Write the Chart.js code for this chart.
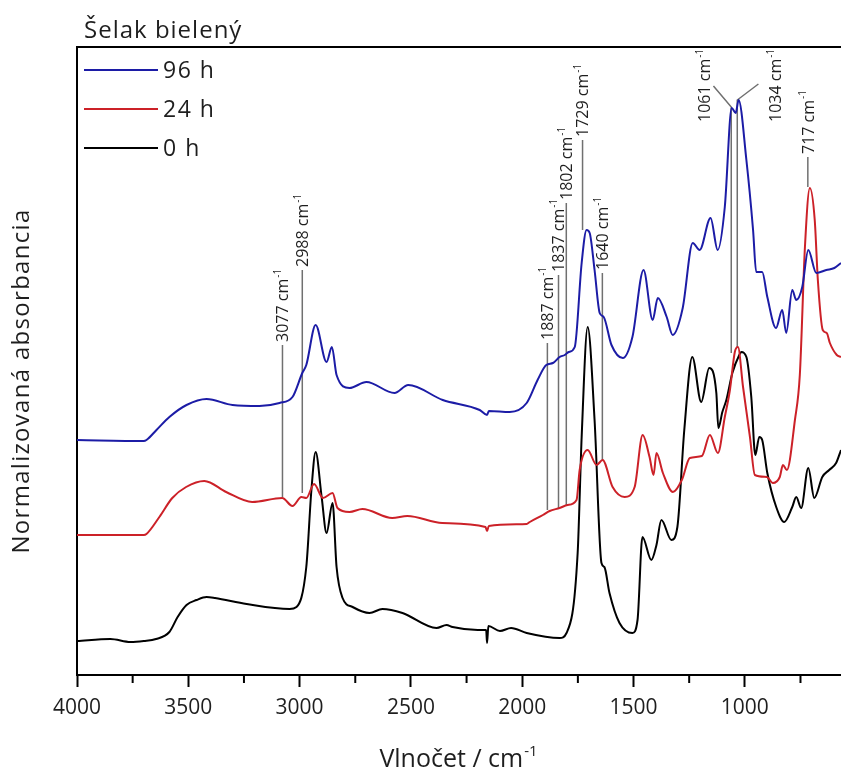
<!DOCTYPE html>
<html lang="sk">
<head>
<meta charset="utf-8">
<title>Šelak bielený</title>
<script src="https://cdn.jsdelivr.net/npm/chart.js@4.4.1/dist/chart.umd.min.js"></script>
<style>
    html, body { margin: 0; padding: 0; background: #fff; }
    canvas { display: block; }
</style>
</head>
<body>
<canvas id="spektrum" width="841" height="772"></canvas>
<script>
// Spektrá šelaku po 0, 24 a 96 h (posunuté nad seba, ľubovoľné jednotky)
const wn0h = [4000, 3850, 3760, 3700, 3645, 3585, 3548, 3508, 3463, 3418, 3380, 3238, 3045, 3014, 2970, 2947, 2928, 2901, 2879, 2852, 2834, 2807, 2762, 2686, 2628, 2538, 2385, 2340, 2313, 2200, 2162, 2158, 2152, 2100, 2050, 1980, 1832, 1801, 1751, 1733, 1706, 1675, 1644, 1631, 1608, 1563, 1505, 1482, 1460, 1420, 1397, 1375, 1330, 1303, 1272, 1236, 1196, 1160, 1128, 1119, 1101, 1083, 1056, 1025, 1016, 993, 971, 953, 935, 922, 899, 859, 823, 787, 769, 747, 715, 688, 652, 621, 590, 568];
const abs0h = [0.34, 0.36, 0.33, 0.34, 0.36, 0.43, 0.58, 0.70, 0.75, 0.78, 0.77, 0.71, 0.66, 0.68, 1.08, 1.85, 2.23, 1.78, 1.42, 1.72, 1.08, 0.77, 0.68, 0.62, 0.66, 0.62, 0.47, 0.50, 0.48, 0.45, 0.45, 0.32, 0.49, 0.44, 0.47, 0.42, 0.37, 0.42, 1.22, 2.38, 3.48, 2.55, 1.12, 1.08, 0.82, 0.52, 0.42, 0.55, 1.38, 1.15, 1.30, 1.55, 1.35, 1.48, 2.45, 3.18, 2.73, 3.07, 2.82, 2.47, 2.63, 2.75, 3.02, 3.20, 3.23, 3.18, 2.78, 2.20, 2.38, 2.35, 2.02, 1.68, 1.53, 1.68, 1.78, 1.67, 2.07, 1.77, 1.98, 2.05, 2.12, 2.25];

const wn24h = [4000, 3700, 3688, 3630, 3572, 3510, 3428, 3330, 3213, 3078, 3032, 2992, 2970, 2935, 2895, 2852, 2830, 2776, 2718, 2584, 2516, 2359, 2165, 2158, 2150, 1980, 1966, 1907, 1877, 1832, 1796, 1756, 1742, 1706, 1666, 1639, 1594, 1540, 1495, 1459, 1428, 1410, 1397, 1368, 1323, 1283, 1247, 1193, 1157, 1121, 1090, 1067, 1045, 1031, 1008, 977, 955, 901, 874, 843, 829, 811, 775, 753, 730, 708, 686, 672, 650, 632, 618, 587, 568];
const abs24h = [1.40, 1.40, 1.41, 1.58, 1.77, 1.88, 1.94, 1.83, 1.73, 1.77, 1.69, 1.78, 1.77, 1.91, 1.77, 1.82, 1.67, 1.63, 1.66, 1.57, 1.59, 1.52, 1.48, 1.44, 1.49, 1.51, 1.53, 1.60, 1.64, 1.67, 1.70, 1.75, 2.05, 2.25, 2.10, 2.15, 1.88, 1.78, 1.88, 2.40, 2.18, 2.00, 2.22, 2.02, 1.83, 1.95, 2.17, 2.19, 2.40, 2.22, 2.58, 2.85, 3.23, 3.28, 2.88, 2.38, 2.00, 1.98, 1.92, 1.98, 2.10, 2.05, 2.55, 3.00, 4.28, 4.87, 4.55, 3.95, 3.45, 3.42, 3.32, 3.20, 3.18];

const wn96h = [4000, 3700, 3688, 3643, 3585, 3508, 3418, 3301, 3180, 3090, 3032, 2988, 2970, 2928, 2879, 2855, 2834, 2776, 2700, 2574, 2512, 2357, 2191, 2158, 2150, 2056, 1980, 1931, 1892, 1862, 1832, 1809, 1791, 1764, 1733, 1711, 1697, 1675, 1652, 1634, 1599, 1548, 1505, 1455, 1414, 1391, 1351, 1324, 1279, 1234, 1203, 1154, 1122, 1090, 1059, 1041, 1028, 993, 963, 949, 922, 899, 860, 832, 814, 787, 769, 742, 715, 679, 634, 598, 568];
const abs96h = [2.35, 2.34, 2.35, 2.45, 2.58, 2.70, 2.76, 2.70, 2.69, 2.72, 2.78, 3.02, 3.10, 3.50, 3.13, 3.28, 3.00, 2.87, 2.93, 2.82, 2.90, 2.75, 2.65, 2.60, 2.64, 2.63, 2.72, 2.95, 3.10, 3.12, 3.18, 3.20, 3.23, 3.28, 4.12, 4.45, 4.42, 4.05, 3.62, 3.58, 3.30, 3.17, 3.38, 4.05, 3.55, 3.77, 3.58, 3.40, 3.67, 4.32, 4.25, 4.57, 4.25, 4.68, 5.67, 5.62, 5.75, 5.15, 4.45, 4.03, 4.03, 3.78, 3.47, 3.65, 3.42, 3.85, 3.75, 3.88, 4.25, 4.02, 4.05, 4.07, 4.12];

const seriesNames = ['96 h', '24 h', '0 h'];
const seriesColors = ['#1c1ca6', '#cc2128', '#000000'];

// označené pásy: poloha, spodný a horný koniec čiary, poloha popisu
const peakWn = [3077, 2988, 1887, 1837, 1802, 1729, 1640, 1061, 1034, 717];
const peakLineFrom = [1.78, 1.82, 1.65, 1.67, 1.70, 4.45, 2.15, 3.22, 3.28, 4.88];
const peakLineTo = [3.30, 4.05, 3.32, 4.00, 4.72, 5.35, 4.02, 5.68, 5.75, 5.18];
const peakLeaderWn = [null, null, null, null, null, null, null, 1141, 939, null];
const peakLeaderY = [null, null, null, null, null, null, null, 5.89, 5.91, null];
const peakLabelWn = [3077, 2988, 1887, 1837, 1802, 1729, 1640, 1181, 862, 717];
const peakLabelY = [3.33, 4.08, 3.35, 4.03, 4.75, 5.38, 4.05, 5.53, 5.53, 5.21];

const majorTicks = [4000, 3500, 3000, 2500, 2000, 1500, 1000];
const minorTicks = [3750, 3250, 2750, 2250, 1750, 1250, 750];

const FONT = '"Open Sans", "DejaVu Sans", sans-serif';

// text s horným indexom (cm-1)
function textSHorIndexom(ctx, zaklad, index, x, y, velkost, zarovnanie, medzera) {
    ctx.letterSpacing = (medzera || 0) + 'px';
    ctx.font = `${velkost}px ${FONT}`;
    const w1 = ctx.measureText(zaklad).width;
    const malaVelkost = Math.round(velkost * 0.6);
    ctx.letterSpacing = '0px';
    ctx.font = `${malaVelkost}px ${FONT}`;
    const w2 = ctx.measureText(index).width;
    let start = x;
    if (zarovnanie === 'center') start = x - (w1 + w2) / 2;
    ctx.textAlign = 'left';
    ctx.letterSpacing = (medzera || 0) + 'px';
    ctx.font = `${velkost}px ${FONT}`;
    ctx.fillText(zaklad, start, y);
    ctx.letterSpacing = '0px';
    ctx.font = `${malaVelkost}px ${FONT}`;
    ctx.fillText(index, start + w1 + 1, y - velkost * 0.45);
}

const popisy = {
    id: 'popisy',
    beforeDatasetsDraw(chart) {
        const { ctx, scales: { x, y } } = chart;
        ctx.save();
        ctx.strokeStyle = '#707070';
        ctx.lineWidth = 1.5;
        peakWn.forEach((wn, i) => {
            const px = x.getPixelForValue(wn);
            ctx.beginPath();
            ctx.moveTo(px, y.getPixelForValue(peakLineFrom[i]));
            ctx.lineTo(px, y.getPixelForValue(peakLineTo[i]));
            if (peakLeaderWn[i] !== null) {
                ctx.lineTo(x.getPixelForValue(peakLeaderWn[i]), y.getPixelForValue(peakLeaderY[i]));
            }
            ctx.stroke();
        });
        ctx.restore();
    },
    afterDraw(chart) {
        const { ctx, chartArea, scales: { x, y } } = chart;
        ctx.save();
        ctx.fillStyle = '#1e1e1e';
        ctx.textBaseline = 'alphabetic';

        // popisy pásov, otočené o 90°
        peakLabelWn.forEach((wn, i) => {
            ctx.save();
            ctx.translate(x.getPixelForValue(wn), y.getPixelForValue(peakLabelY[i]));
            ctx.rotate(-Math.PI / 2);
            textSHorIndexom(ctx, `${peakWn[i]} cm`, '-1', 0, 16 * 0.36, 16, 'left');
            ctx.restore();
        });

        // horný okraj rámu
        ctx.strokeStyle = '#000';
        ctx.lineWidth = 2;
        ctx.beginPath();
        ctx.moveTo(chartArea.left, chartArea.top);
        ctx.lineTo(chartArea.right, chartArea.top);
        ctx.stroke();

        // vedľajšie značky na osi x
        minorTicks.forEach(v => {
            const px = x.getPixelForValue(v);
            ctx.beginPath();
            ctx.moveTo(px, chartArea.bottom);
            ctx.lineTo(px, chartArea.bottom + 8);
            ctx.stroke();
        });

        // legenda
        ctx.lineWidth = 2;
        [70, 109, 148].forEach((ly, i) => {
            ctx.strokeStyle = seriesColors[i];
            ctx.beginPath();
            ctx.moveTo(chartArea.left + 7, ly);
            ctx.lineTo(chartArea.left + 81, ly);
            ctx.stroke();
            ctx.fillStyle = '#1e1e1e';
            ctx.letterSpacing = '1.5px';
            ctx.font = `23px ${FONT}`;
            ctx.textAlign = 'left';
            ctx.textBaseline = 'middle';
            ctx.fillText(seriesNames[i], chartArea.left + 86, ly + 1);
        });

        // nadpis
        ctx.textBaseline = 'alphabetic';
        ctx.letterSpacing = '1px';
        ctx.font = `24px ${FONT}`;
        ctx.fillText('Šelak bielený', 84, 38);

        // názov osi y
        ctx.save();
        ctx.translate(22, 381);
        ctx.rotate(-Math.PI / 2);
        ctx.textAlign = 'center';
        ctx.textBaseline = 'middle';
        ctx.letterSpacing = '1.3px';
        ctx.font = `24px ${FONT}`;
        ctx.fillText('Normalizovaná absorbancia', 0, 0);
        ctx.restore();

        // názov osi x
        ctx.textBaseline = 'alphabetic';
        textSHorIndexom(ctx, 'Vlnočet / cm', '-1', 458, 767, 25, 'center', 0);
        ctx.restore();
    }
};

const ctx = document.getElementById('spektrum').getContext('2d');

const datasets = [
    [wn96h, abs96h],
    [wn24h, abs24h],
    [wn0h, abs0h]
].map(([wn, ab], i) => ({
    label: seriesNames[i],
    data: wn.map((w, k) => ({ x: w, y: ab[k] })),
    borderColor: seriesColors[i],
    borderWidth: 2,
    pointRadius: 0,
    fill: false,
    cubicInterpolationMode: 'monotone'
}));

new Chart(ctx, {
    type: 'line',
    data: { datasets },
    options: {
        responsive: false,
        animation: false,
        devicePixelRatio: 1,
        layout: { autoPadding: false, padding: { top: 47, right: 0, left: 0, bottom: 0 } },
        plugins: { legend: { display: false }, tooltip: { enabled: false } },
        scales: {
            x: {
                type: 'linear',
                reverse: true,
                min: 568,
                max: 4000,
                afterBuildTicks: s => { s.ticks = majorTicks.map(v => ({ value: v })); },
                afterFit: s => { s.height = 97; },
                ticks: {
                    font: { family: 'Open Sans', size: 21 },
                    color: '#1e1e1e',
                    padding: 8,
                    maxRotation: 0,
                    autoSkip: false,
                    callback: v => String(v)
                },
                grid: { drawOnChartArea: false, tickLength: 12, tickWidth: 2, tickColor: '#000' },
                border: { color: '#000', width: 2 }
            },
            y: {
                min: 0,
                max: 6.28,
                afterFit: s => { s.width = 77; },
                ticks: { display: false },
                grid: { display: false },
                border: { color: '#000', width: 2 }
            }
        }
    },
    plugins: [popisy]
});
</script>
</body>
</html>
